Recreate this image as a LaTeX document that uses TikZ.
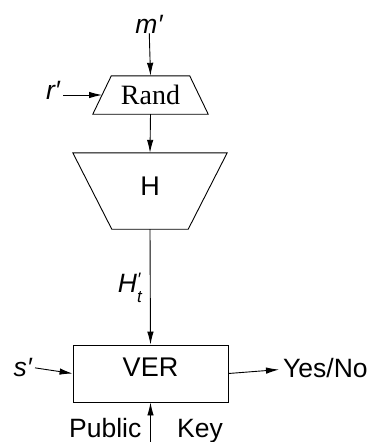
\documentclass[tikz,border=0pt]{standalone}
\usepackage{fontspec}
\setmainfont{Liberation Serif}
\newfontfamily\lsans{Liberation Sans}
\usetikzlibrary{arrows.meta,calc}

\tikzset{
  wire/.style={line width=0.9pt},
  arr/.style={wire,-{Latex[length=13pt,width=6.5pt]}},
  lbl/.style={font=\lsans\fontsize{26.5}{30}\selectfont, inner sep=0pt},
  var/.style={lbl, font=\lsans\itshape\fontsize{26.5}{30}\selectfont},
  frame/.style={draw=none, inner sep=0pt},
}

\begin{document}
\begin{tikzpicture}[x=1pt,y=-1pt]
  \useasboundingbox (0,0) rectangle (373,442);

  % inputs at the top
  \node[var, anchor=base] (m) at (149,33) {m′};

  % Rand stage: trapezium, narrow at the top
  \node[frame, minimum width=115pt, minimum height=38pt,
        font=\fontsize{28}{32}\selectfont, text height=18.5pt, text depth=0.5pt]
        (rand) at (150.5,95) {Rand};
  \draw[wire] (rand.south west) -- (rand.south east)
    -- ($(rand.north east)+(-18.5,0)$) -- ($(rand.north west)+(18.5,0)$) -- cycle;
  \coordinate (randin) at ($(rand.west)+(9.25,0)$);

  \node[var, anchor=base east, text height=8pt, text depth=0pt, inner xsep=3pt]
        (r) at (63,99) {r′};

  % H stage: trapezium, wide at the top
  \node[frame, minimum width=154pt, minimum height=76pt,
        font=\lsans\fontsize{27}{31}\selectfont, text height=19.3pt, text depth=11.3pt]
        (h) at (150,191) {H};
  \draw[wire] (h.north west) -- (h.north east)
    -- ($(h.south east)+(-39,0)$) -- ($(h.south west)+(39,0)$) -- cycle;

  % verification box
  \node[draw, wire, minimum width=155pt, minimum height=57pt, inner sep=0pt,
        font=\lsans\fontsize{27}{31}\selectfont, text height=19pt, text depth=12.6pt]
        (ver) at (150.5,373.5) {VER};

  % hash value label: H with a prime above and t below
  \node[var, anchor=base east, inner sep=0pt] (ht) at (142,292)
    {H\makebox[0pt][l]{\raisebox{7pt}{\fontsize{18}{20}\selectfont ′}}\raisebox{-10pt}{\fontsize{17}{20}\selectfont t}};

  \node[var, anchor=base east, text height=20pt, text depth=0pt, inner xsep=3pt]
        (s) at (35,376) {s′};
  \node[lbl, anchor=base west, text height=22pt, text depth=0pt, inner xsep=4pt]
        (yn) at (279,377) {Yes/No};

  \node[lbl, anchor=base east] (pub) at (141.5,437) {Public};
  \node[lbl, anchor=base west] (key) at (177,437) {Key};
  \coordinate (pk) at (150.5,442);

  % connectors
  \draw[arr] (m) -- (rand.north);
  \draw[arr] (r) -- (randin);
  \draw[arr] (rand.south) -- (h.north);
  \draw[arr] (h.south) -- (ver.north);
  \draw[arr] (s) -- (ver.west);
  \draw[arr] (ver.east) -- (yn);
  \draw[arr] (pk) -- (ver.south);
\end{tikzpicture}
\end{document}
